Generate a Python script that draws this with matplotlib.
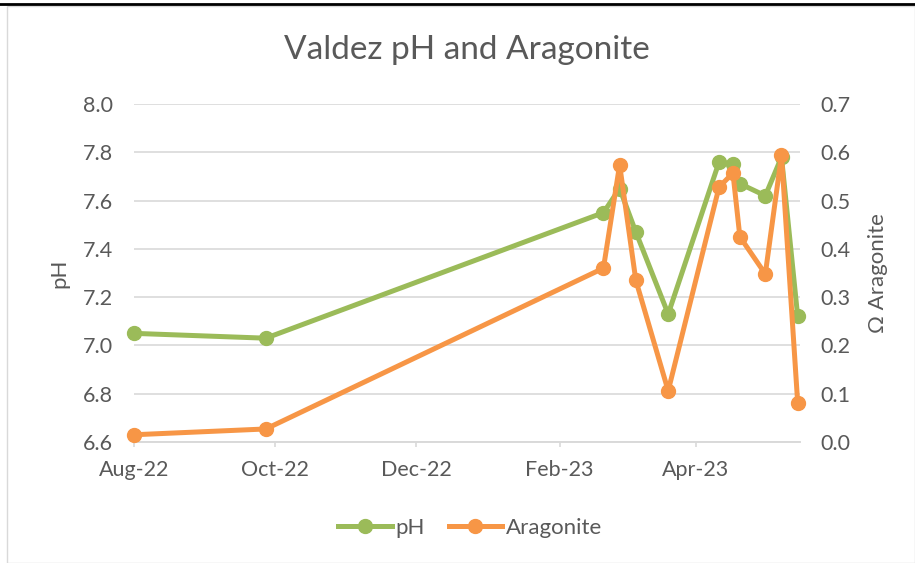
import matplotlib
matplotlib.use("Agg")
import matplotlib.pyplot as plt
from matplotlib.lines import Line2D
import pandas as pd

plt.rcParams['font.family'] = ['Lato', 'DejaVu Sans']

dates = pd.to_datetime([
    "2022-08-01", "2022-09-27", "2023-02-20", "2023-02-27", "2023-03-06",
    "2023-03-20", "2023-04-11", "2023-04-17", "2023-04-20", "2023-05-01",
    "2023-05-08", "2023-05-15",
])
ph = [7.05, 7.03, 7.55, 7.65, 7.47, 7.13, 7.76, 7.75, 7.67, 7.62, 7.78, 7.12]
aragonite = [0.015, 0.027, 0.360, 0.574, 0.335, 0.106, 0.528, 0.557, 0.425, 0.348, 0.594, 0.081]
ph_ticks = [6.6, 6.8, 7.0, 7.2, 7.4, 7.6, 7.8, 8.0]
arag_ticks = [0.0, 0.1, 0.2, 0.3, 0.4, 0.5, 0.6, 0.7]
month_ticks = ["2022-08-01", "2022-10-01", "2022-12-01", "2023-02-01", "2023-04-01"]

green = "#9BBB59"
orange = "#F79646"
txt = "#595959"
grid = "#D9D9D9"

fig = plt.figure(figsize=(9.15, 5.63), dpi=100)
ax = fig.add_axes([134/915, 1-442/563, (800-134)/915, (442-104)/563])
ax2 = ax.twinx()

ax.plot(dates, ph, color=green, lw=3.6, marker='o', ms=10, zorder=3,
        solid_capstyle='round', clip_on=False)
ax2.plot(dates, aragonite, color=orange, lw=3.6, marker='o', ms=10, zorder=3,
         solid_capstyle='round', clip_on=False)

ax.set_ylim(6.6, 8.0)
ax.set_yticks(ph_ticks)
ax.set_yticklabels([f"{v:.1f}" for v in ph_ticks])
ax2.set_ylim(0, 0.7)
ax2.set_yticks(arag_ticks)
ax2.set_yticklabels([f"{v:.1f}" for v in arag_ticks])

ax.set_xlim(pd.Timestamp("2022-08-01"), pd.Timestamp("2023-05-16"))
xt = pd.to_datetime(month_ticks)
ax.set_xticks(xt)
ax.set_xticklabels([d.strftime("%b-%y") for d in xt])

ax.grid(axis='y', color=grid, lw=1.2)
ax.set_axisbelow(True)
for a in (ax, ax2):
    for s in ('top', 'left', 'right'):
        a.spines[s].set_visible(False)
    a.spines['bottom'].set_color(grid)
    a.spines['bottom'].set_linewidth(1.2)
ax.tick_params(axis='y', length=0, labelsize=15.5, labelcolor=txt, pad=15)
ax2.tick_params(axis='y', length=0, labelsize=15.5, labelcolor=txt, pad=15)
ax.tick_params(axis='x', length=3.6, color=grid, labelsize=15.5, labelcolor=txt, pad=9, width=1.2)

ax.set_ylabel("pH", fontsize=16, color=txt, labelpad=10)
ax2.set_ylabel("Ω Aragonite", fontsize=16, color=txt, labelpad=12)

fig.text(467/915, 1-50/563, "Valdez pH and Aragonite", ha='center', va='center', fontsize=24, color=txt)

handles = [
    Line2D([], [], color=green, lw=3.6, marker='o', ms=10),
    Line2D([], [], color=orange, lw=3.6, marker='o', ms=10),
]
fig.legend(handles, ["pH", "Aragonite"], loc='center', bbox_to_anchor=(470/915, 1-528/563),
           ncol=2, frameon=False, fontsize=16, labelcolor=txt, handlelength=2.4,
           handletextpad=0.15, columnspacing=1.1)

# chart border and top line
fig.add_artist(plt.Rectangle((7/915, 0), 1-7/915, 1-6/563, transform=fig.transFigure,
                             fill=False, edgecolor="#D9D9D9", lw=1))
fig.add_artist(Line2D([0, 1], [1-4/563, 1-4/563], transform=fig.transFigure, color='black', lw=2))

fig.savefig("out.png", dpi=100)
